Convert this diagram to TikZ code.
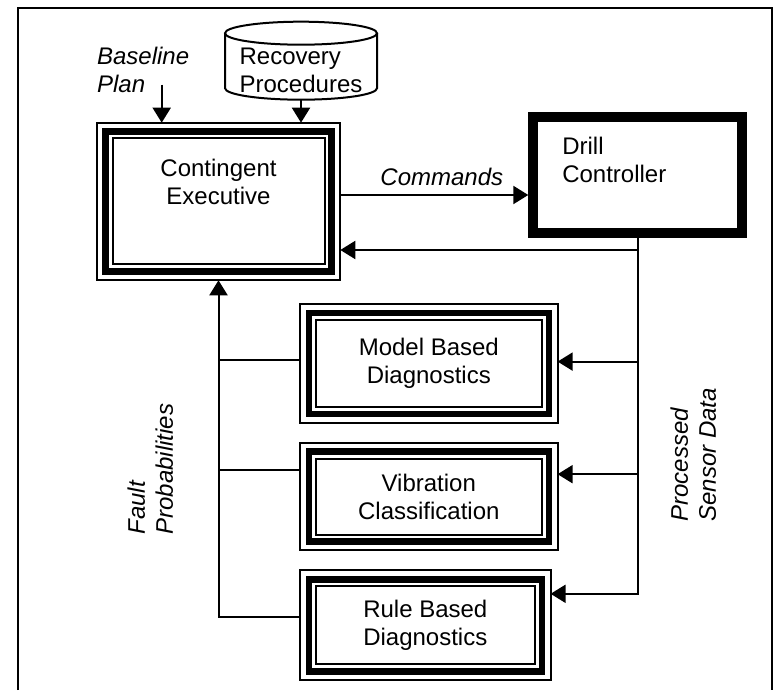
\documentclass[tikz,border=0pt]{standalone}
\usepackage{fontspec}
\setmainfont{Liberation Sans}
\usetikzlibrary{positioning,arrows.meta}
\newcommand{\rims}[1]{%
  \draw[rim] (#1.north west) rectangle (#1.south east);
  \draw[rim] ([shift={(7.9pt,-7.9pt)}]#1.north west) rectangle ([shift={(-7.9pt,7.9pt)}]#1.south east);}

\begin{document}
\begin{tikzpicture}[
    every node/.style={font=\fontsize{12}{14}\selectfont},
    tribox/.style={draw, line width=3.25pt, outer sep=4.4pt, inner sep=0pt, align=center},
    ctrl/.style={draw, line width=5pt, align=left, inner xsep=14.5pt},
    rim/.style={line width=1pt},
    lbl/.style={font=\fontsize{12}{14}\selectfont\itshape, inner sep=0pt},
    link/.style={line width=1pt},
    arrow/.style={-{Triangle[length=7.5pt,width=9pt]}, line width=1pt}
  ]
  \useasboundingbox (0,0) rectangle (387.5pt,345pt);
  % frame
  \draw[link] (9pt,0pt) |- (386pt,341pt) -- (386pt,0pt);

  % executive
  \node[tribox, minimum width=113pt, minimum height=70pt] (ce) at (109.25pt,244.25pt) {Contingent\\Executive\\[6pt]~};
  % inputs
  \node[lbl, align=left, above=14.75pt of ce.north west, anchor=south west] (bp) {Baseline\\Plan};
  \node[align=left, above right=26pt and 41.25pt of ce.north, anchor=center] (rp) {Recovery\\Procedures};

  % drill controller
  \node[ctrl, minimum width=104.5pt, minimum height=58pt, text width=75.5pt,
        right=94pt of ce.north east, anchor=north west, yshift=5.5pt] (dc) {Drill\\Controller\\[1pt]~};

  % diagnosers
  \node[tribox, minimum width=120pt, minimum height=50.5pt, below right=12pt and 40.75pt of ce.south] (mbd) {Model Based\\Diagnostics};
  \node[tribox, minimum width=120pt, minimum height=45pt, below=10pt of mbd] (vc) {Vibration\\Classification};
  \node[tribox, minimum width=116.5pt, minimum height=46pt, below=10pt of vc.south west, anchor=north west] (rbd) {Rule Based\\Diagnostics};

  \rims{ce}
  \rims{mbd}
  \rims{vc}
  \rims{rbd}

  % database drum
  \draw[rim] ([yshift=18.75pt]rp.center) ellipse [x radius=38pt, y radius=5.75pt];
  \draw[rim] ([shift={(-38pt,18.75pt)}]rp.center) -- ([shift={(-38pt,-8.75pt)}]rp.center)
    arc[start angle=180, end angle=360, x radius=38pt, y radius=5.75pt] -- ([shift={(38pt,18.75pt)}]rp.center);
  \coordinate (rpb) at ([yshift=-14.5pt]rp.center);

  % labels
  \node[lbl, rotate=90, align=left, anchor=north west] (fp) at (63.5pt,77.5pt) {Fault\\Probabilities};
  \node[lbl, rotate=90, align=left, anchor=north west] (psd) at (335pt,84pt) {Processed\\Sensor Data};

  % --- arrows ---
  \draw[arrow] ([shift={(32.5pt,19pt)}]ce.north west) -- ([xshift=32.5pt]ce.north west);
  \draw[arrow] (rpb) -- (rpb |- ce.north);

  \draw[arrow] ([yshift=3.25pt]ce.east) -- ([yshift=3.25pt]ce.east -| dc.west)
    node[lbl, pos=0.54, above=4pt] (cmd) {Commands};

  % sensor data
  \draw[arrow] (dc.south) |- ([yshift=15.75pt]rbd.east);
  \draw[arrow] ([yshift=1pt]mbd.east -| dc.south) -- ([yshift=1pt]mbd.east);
  \draw[arrow] ([yshift=11.25pt]vc.east -| dc.south) -- ([yshift=11.25pt]vc.east);
  \draw[arrow] ([yshift=-24.25pt]ce.east -| dc.south) -- ([yshift=-24.25pt]ce.east);

  % fault probabilities
  \draw[arrow] ([yshift=4.25pt]rbd.west) -| (ce.south);
  \draw[link] ([yshift=2pt]mbd.west) -- ([yshift=2pt]mbd.west -| ce.south);
  \draw[link] ([yshift=13.25pt]vc.west) -- ([yshift=13.25pt]vc.west -| ce.south);

\end{tikzpicture}
\end{document}
